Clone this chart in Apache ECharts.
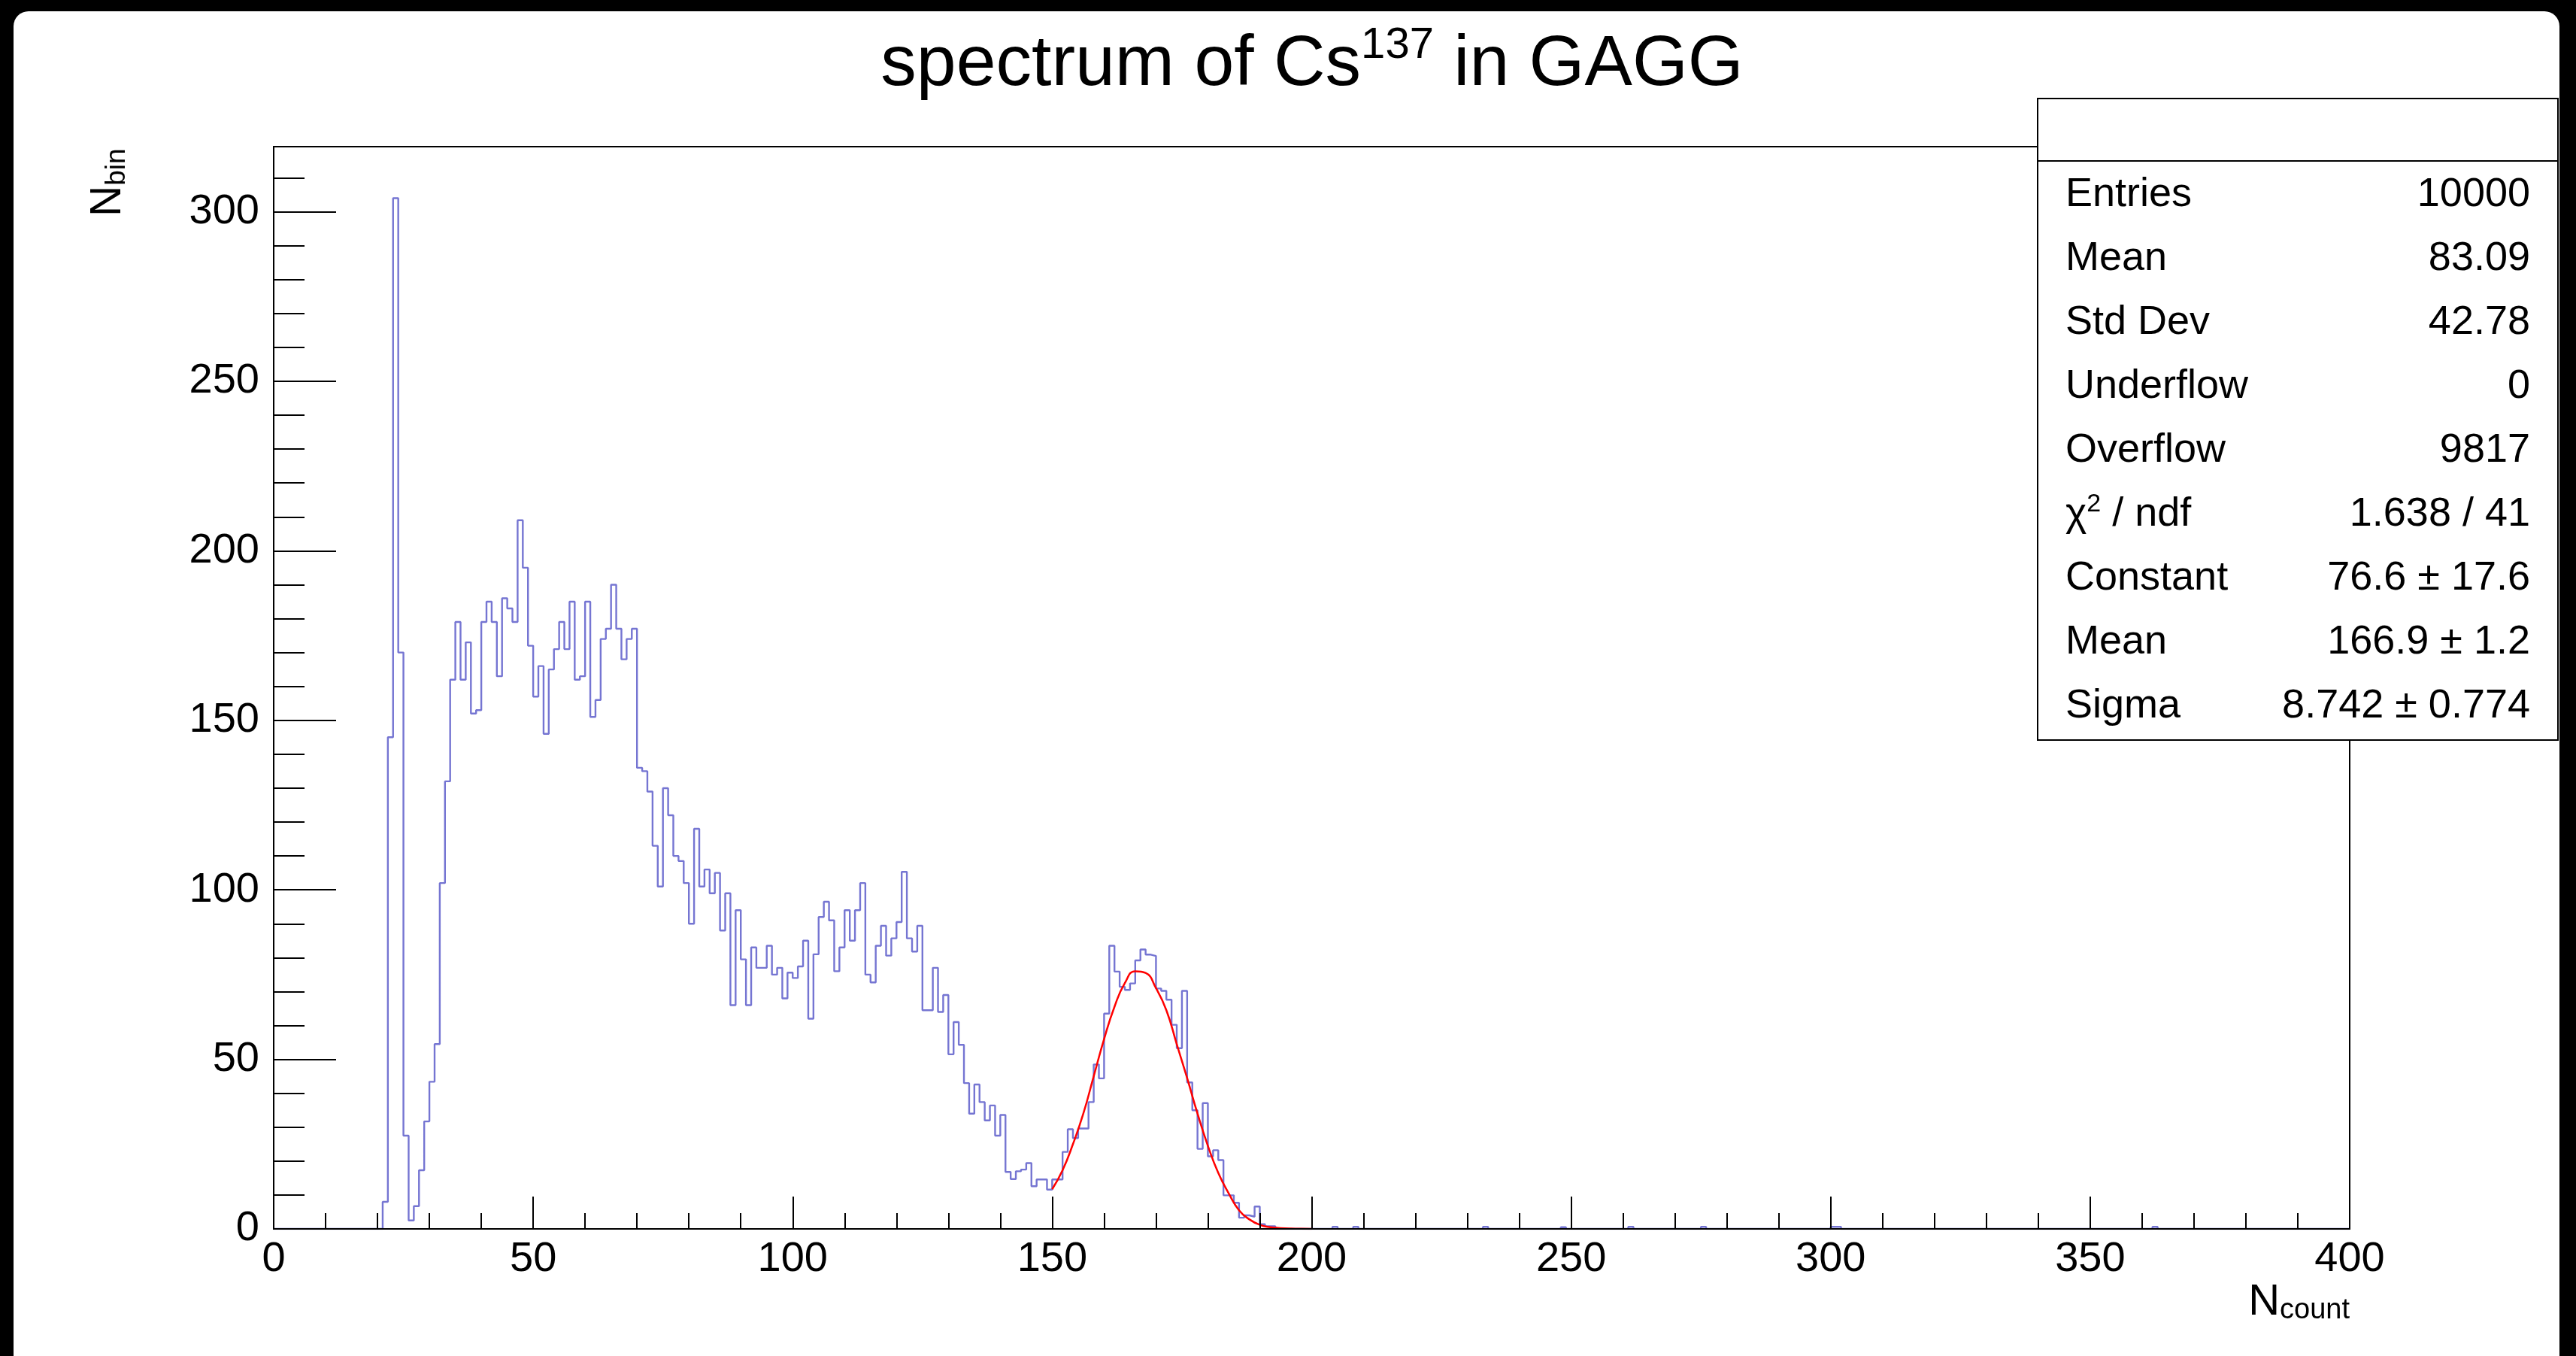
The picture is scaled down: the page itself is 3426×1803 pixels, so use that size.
<!DOCTYPE html>
<html>
<head>
<meta charset="utf-8">
<title>spectrum of Cs137 in GAGG</title>
<script src="https://cdn.jsdelivr.net/npm/echarts@6/dist/echarts.min.js"></script>
<style>
  html, body { margin: 0; padding: 0; background: #000; width: 3426px; height: 1803px; overflow: hidden; }
  #paper { position: absolute; left: 18px; top: 15px; width: 3386px; height: 1788px; background: #fff; border-radius: 20px 20px 0 0; }
  #chart { position: absolute; left: 0; top: 0; width: 3426px; height: 1803px; }
</style>
</head>
<body>
<div id="paper"></div>
<div id="chart"></div>
<script>
var FONT = "Liberation Sans";

// histogram: 400 bins of width 1 on [0, 400]
var nBins = 400;
var firstBin = 20;
// counts of bins 20 .. 193
var binCounts = [
  0, 8, 145, 304, 170, 27.5, 2.5, 6.7, 17.3, 31.7,
  43.4, 54.5, 102, 132, 162, 179, 162, 173, 152, 153,
  179, 185, 179, 163, 186, 183, 179, 209, 195, 172,
  157, 166, 146, 165, 171, 179, 171, 185, 162, 163,
  185, 151, 156, 174, 177, 190, 177, 168, 174, 177,
  136, 135, 129, 113, 101, 130, 122, 110, 108.5, 102,
  90, 118, 101, 106, 99, 105, 88, 99, 66, 94,
  79.5, 66, 83, 77, 77, 83.5, 75, 77, 68, 75.6,
  74, 77.4, 85, 62, 81, 92, 96.5, 91, 76, 83,
  94, 85, 94, 102, 75, 72.7, 83.5, 89.4, 80.6, 85.7,
  90.5, 105.3, 85.7, 81.8, 89.4, 64.5, 64.5, 77, 64, 69,
  51.5, 61, 54.3, 43, 34, 42.6, 37.4, 32, 36.4, 27.5,
  33.6, 16.8, 14.7, 17, 17.5, 19.4, 12.6, 14.6, 14.6, 11.6,
  14.6, 14.6, 22.7, 29.4, 26.8, 29.6, 29.6, 37.4, 48.5, 44.4,
  63.5, 83.5, 75.9, 71.4, 70.5, 72.4, 79.2, 82.4, 80.9, 80.5,
  70.9, 70.2, 67.6, 60.2, 53.3, 70.2, 43.2, 35, 23.6, 37.1,
  21.4, 23.2, 20.3, 9.9, 9.9, 7.7, 3.3, 4, 3.6, 6.6,
  1.4, 0.8, 0.8, 0
];
// isolated entries far in the tail
var tailBins = [204, 208, 233, 248, 261, 275, 300, 301, 362];
var tailCounts = [0.6, 0.6, 0.6, 0.5, 0.6, 0.6, 0.6, 0.6, 0.6];

// gaussian fit curve
var fitX = [150, 152, 154, 156, 158, 160, 162, 164, 166, 168, 170, 172, 174,
            176, 178, 180, 182, 184, 186, 188, 190, 192, 194, 196, 198, 200];
var fitY = [11.7, 17.3, 25, 34, 45, 56, 65.5, 72.5, 76, 75.5, 71, 64.5, 54.5,
            44.5, 34, 24.5, 16.5, 10.5, 5.5, 2.8, 1.2, 0.5, 0.25, 0.1, 0.03, 0.01];

var yMax = 319.2;

// stats box
var statLabels = ["Entries", "Mean", "Std Dev", "Underflow", "Overflow",
                  "{a|\u03c7}{b|2}{a| / ndf}", "Constant", "Mean", "Sigma"];
var statValues = ["10000", "83.09", "42.78", "0", "9817", "1.638 / 41",
                  "76.6 \u00b1 17.6", "166.9 \u00b1 1.2", "8.742 \u00b1 0.774"];

var hist = [];
for (var k = 0; k < nBins; k++) hist.push([k, 0]);
binCounts.forEach(function (v, i) { hist[firstBin + i][1] = v; });
tailBins.forEach(function (b, i) { hist[b][1] = tailCounts[i]; });
hist.push([nBins, 0]);

var fitData = fitX.map(function (x, i) { return [x, fitY[i]]; });

var tickStyle = { color: "#000", width: 2 };
var labelStyle = { fontSize: 56, fontFamily: FONT, color: "#000" };

var graphics = [
  // title
  {
    type: "text", x: 1745, y: 32, z: 100,
    style: {
      text: "{m|spectrum of Cs}{s|137}{m| in GAGG}",
      align: "center", verticalAlign: "top", fill: "#000",
      rich: {
        m: { fontSize: 95, fontFamily: FONT, lineHeight: 110, verticalAlign: "middle" },
        s: { fontSize: 58, fontFamily: FONT, lineHeight: 41, verticalAlign: "top" }
      }
    }
  },
  // y title
  {
    type: "text", x: 144, y: 288, rotation: Math.PI / 2, z: 100,
    style: {
      text: "{n|N}{s|bin}", align: "left", verticalAlign: "middle", fill: "#000",
      rich: {
        n: { fontSize: 57, fontFamily: FONT, lineHeight: 60, verticalAlign: "middle" },
        s: { fontSize: 37, fontFamily: FONT, lineHeight: 16, verticalAlign: "bottom" }
      }
    }
  },
  // x title
  {
    type: "text", x: 3125, y: 1732, z: 100,
    style: {
      text: "{n|N}{s|count}", align: "right", verticalAlign: "middle", fill: "#000",
      rich: {
        n: { fontSize: 58, fontFamily: FONT, lineHeight: 60, verticalAlign: "middle" },
        s: { fontSize: 38, fontFamily: FONT, lineHeight: 20, verticalAlign: "bottom" }
      }
    }
  },
  // stats box
  {
    type: "rect", z: 100,
    shape: { x: 2710, y: 131, width: 692, height: 853 },
    style: { fill: "#fff", stroke: "#000", lineWidth: 2 }
  },
  {
    type: "line", z: 101,
    shape: { x1: 2710, y1: 214, x2: 3402, y2: 214 },
    style: { stroke: "#000", lineWidth: 2 }
  }
];

statLabels.forEach(function (lab, i) {
  var y = 259 + 85 * i;
  graphics.push({
    type: "text", x: 2747, y: y, z: 102,
    style: {
      text: lab, align: "left", verticalAlign: "middle", fill: "#000",
      fontSize: 54, fontFamily: FONT,
      rich: {
        a: { fontSize: 54, fontFamily: FONT, lineHeight: 60, verticalAlign: "middle" },
        b: { fontSize: 34, fontFamily: FONT, lineHeight: 34, verticalAlign: "top" }
      }
    }
  });
  graphics.push({
    type: "text", x: 3365, y: y, z: 102,
    style: {
      text: statValues[i], align: "right", verticalAlign: "middle", fill: "#000",
      fontSize: 54, fontFamily: FONT
    }
  });
});

var chart = echarts.init(document.getElementById("chart"), null, { renderer: "canvas" });
chart.setOption({
  animation: false,
  backgroundColor: "transparent",
  grid: {
    left: 364, top: 195, width: 2761, height: 1439,
    show: true, borderColor: "#000", borderWidth: 2, backgroundColor: "transparent"
  },
  xAxis: [{
    type: "value", min: 0, max: 400, interval: 50, z: 5,
    axisLine: { show: true, onZero: false, lineStyle: tickStyle },
    axisTick: { show: true, inside: true, length: 43, lineStyle: tickStyle },
    minorTick: { show: true, splitNumber: 5, length: 21, lineStyle: tickStyle },
    axisLabel: Object.assign({ margin: 13 }, labelStyle),
    splitLine: { show: false },
    minorSplitLine: { show: false }
  }],
  yAxis: [{
    type: "value", min: 0, max: yMax, interval: 50, z: 5,
    axisLine: { show: true, onZero: false, lineStyle: tickStyle },
    axisTick: { show: true, inside: true, length: 83, lineStyle: tickStyle },
    axisLabel: Object.assign({
      margin: 19, showMaxLabel: false,
      formatter: function (v) { return v % 50 === 0 ? String(v) : ""; }
    }, labelStyle),
    splitLine: { show: false }
  }, {
    // minor ticks every 10
    type: "value", min: 0, max: yMax, interval: 10, position: "left", z: 5,
    axisLine: { show: false },
    axisTick: { show: true, inside: true, length: 41, lineStyle: tickStyle },
    axisLabel: { show: false },
    splitLine: { show: false }
  }],
  series: [{
    name: "hist",
    type: "line",
    step: "end",
    data: hist,
    showSymbol: false,
    symbol: "none",
    lineStyle: { color: "#7575d2", width: 2.4 },
    z: 2
  }, {
    name: "fit",
    type: "line",
    smooth: true,
    data: fitData,
    showSymbol: false,
    symbol: "none",
    lineStyle: { color: "#ff0000", width: 2.5 },
    z: 3
  }],
  graphic: graphics
});
</script>
</body>
</html>
